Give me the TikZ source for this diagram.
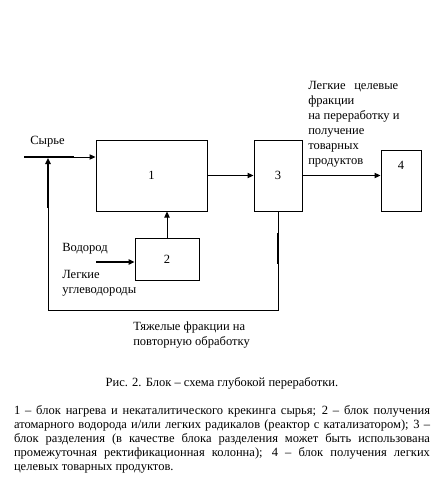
\documentclass[tikz,border=0pt]{standalone}
\usepackage{fontspec}
\setmainfont{Liberation Serif}
\usetikzlibrary{arrows.meta}

\begin{document}
\begin{tikzpicture}[
    x=0.75pt, y=-0.75pt,
    every node/.style={font=\rmfamily\fontsize{9.4pt}{11.25pt}\selectfont},
    block/.style={draw, line width=0.75pt, inner sep=0pt},
    arrow/.style={-{Triangle[length=4.5pt,width=4pt]}, line width=0.75pt},
    thickline/.style={line width=1.6pt},
    label/.style={align=left, inner sep=0pt}
]
\useasboundingbox (0,0) rectangle (444,489);

\node[block, minimum width=83.25pt, minimum height=53.25pt] (b1) at (151.5,175.5) {1};
\node[block, minimum width=36pt, minimum height=53.25pt] (b3) at (278,175.5) {3};
\node[block, minimum width=30pt, minimum height=45.75pt, text depth=23pt] (b4) at (401,180.5) {4};
\node[block, minimum width=48pt, minimum height=31.5pt] (b2) at (167,259) {2};

\node[label, anchor=west] (feed) at (30,142) {Сырье};
\node[label, anchor=west] (hydro) at (62,249) {Водород};
\node[label, anchor=north west] (light) at (62,270) {Легкие\\углеводороды};
\node[label, anchor=west] (heavy) at (133,335) {Тяжелые фракции на\\повторную обработку};
\node[label, anchor=west] (target) at (308,124.5) {\makebox[67.5pt][s]{Легкие целевые}\\фракции\\на переработку и\\получение\\товарных\\продуктов};

\coordinate (fin) at (24,157);
\coordinate (fmid) at (74,157);
\coordinate (hin) at (96,262);
\coordinate (ret1) at (278,310);
\coordinate (ret2) at (48,310);
\coordinate (ret3) at (48,158);

\draw[thickline] (fin) -- (fmid);
\draw[arrow] (fmid) -- (fmid -| b1.west);
\draw[arrow] (b1) -- (b3);
\draw[arrow] (b3.east) -- (b3.east -| b4.west);
\draw[arrow] (b2.north) -- (b2.north |- b1.south);
\draw[arrow, line width=1.6pt] (hin) -- (hin -| b2.west);
\draw[line width=0.75pt] (b3.south -| ret1) -- (ret1) -- (ret2) -- (48,208);
\draw[arrow, thickline] (48,208) -- (ret3);
\draw[thickline] (278,233) -- (278,264);

\node[inner sep=0pt] (caption) at (222,383) {Рис. 2. Блок – схема глубокой переработки.};
\node[inner sep=0pt, text width=312pt, align=justify, font=\rmfamily\fontsize{9.4pt}{10.5pt}\selectfont] (notes) at (222,439) {%
\hyphenpenalty=10000\relax\emergencystretch=3em\relax
1 – блок нагрева и некаталитического крекинга сырья; 2 – блок получения\linebreak
атомарного водорода и/или легких радикалов (реактор с катализатором); 3 –\linebreak
блок разделения (в качестве блока разделения может быть использована\linebreak
промежуточная ректификационная колонна); 4 – блок получения легких\linebreak
целевых товарных продуктов.};
\end{tikzpicture}
\end{document}
